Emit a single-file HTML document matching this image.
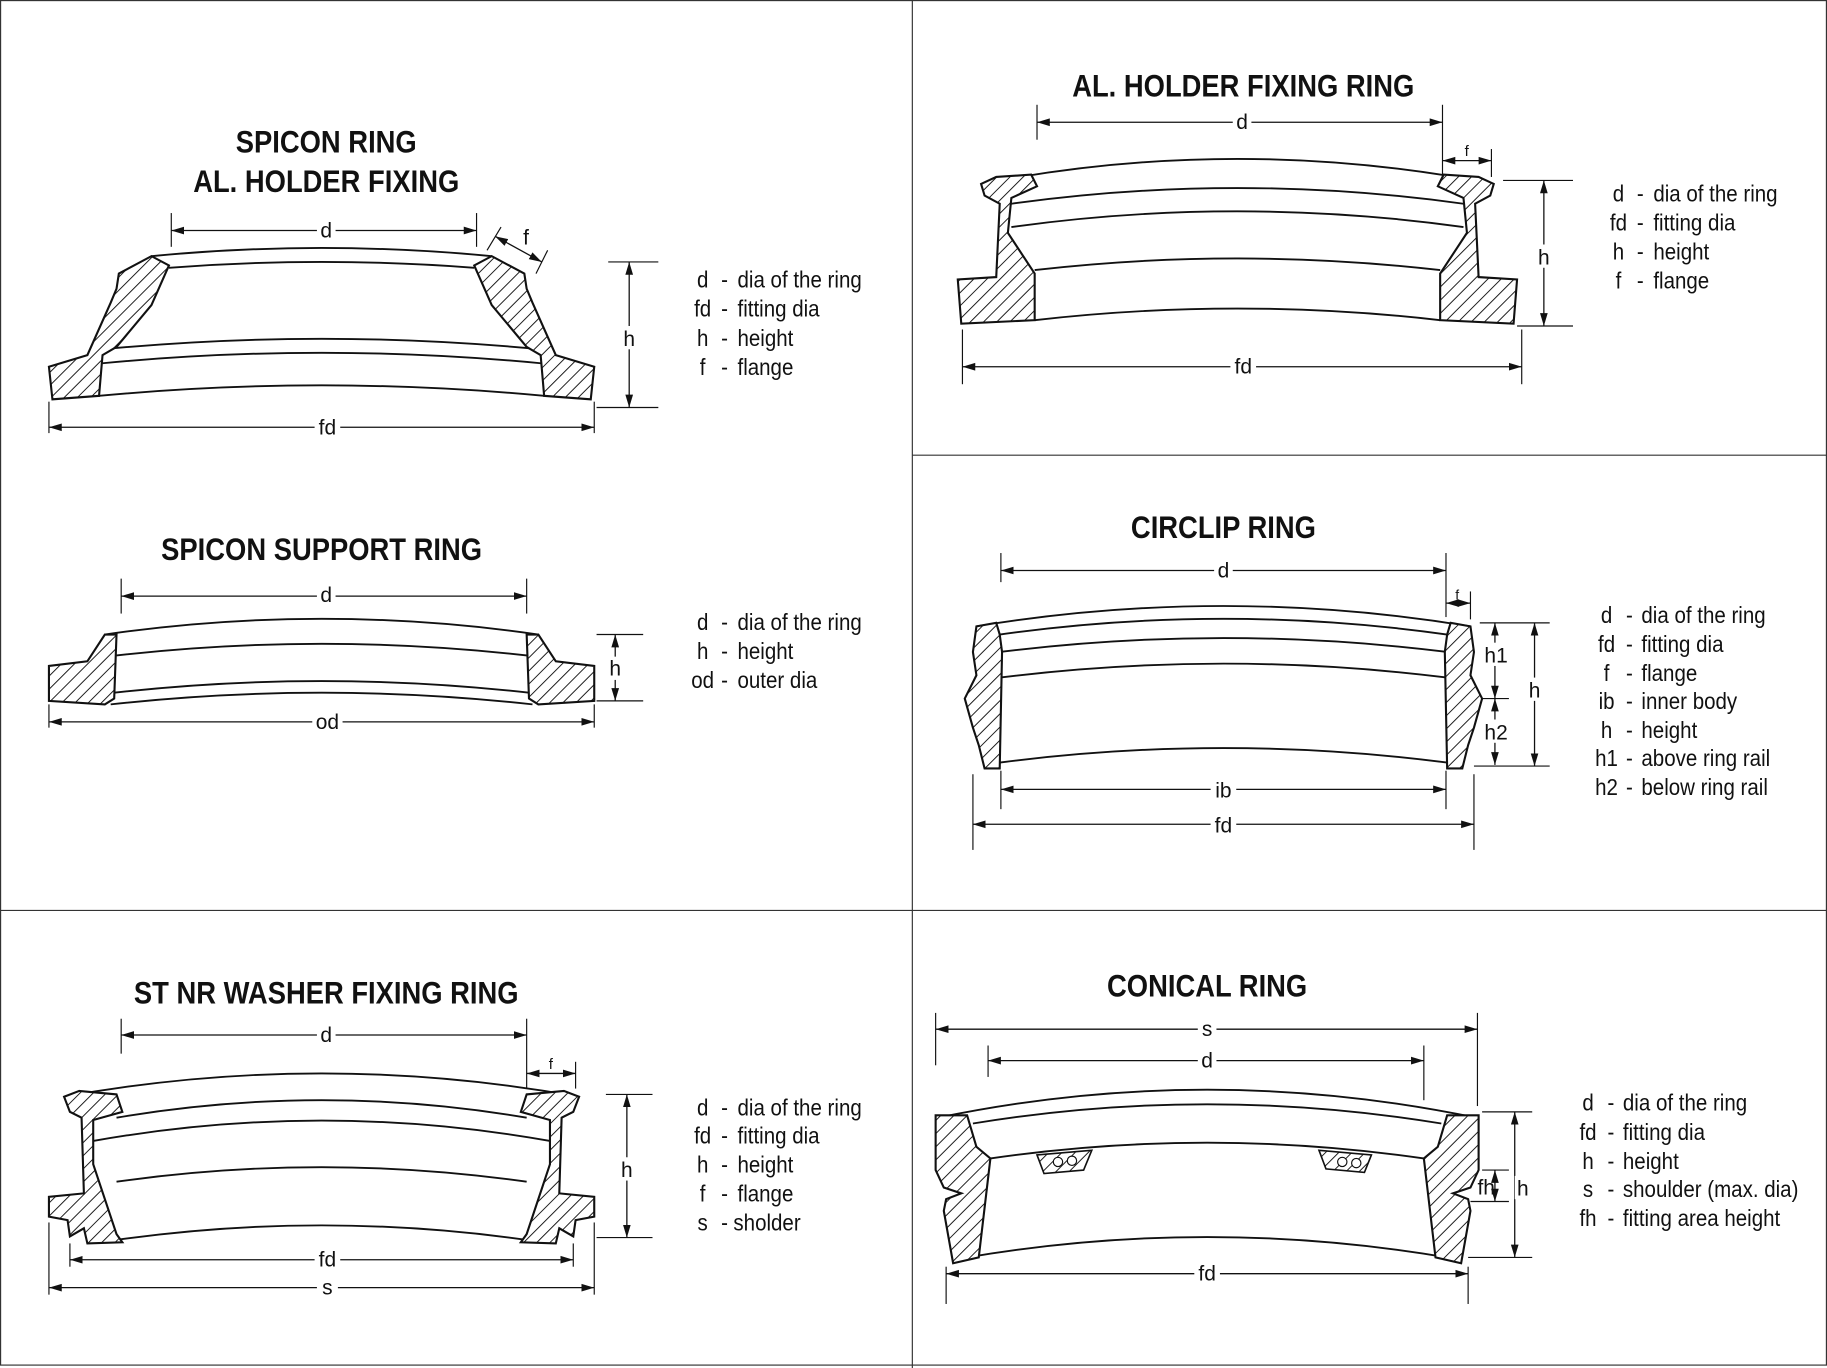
<!DOCTYPE html>
<html><head><meta charset="utf-8"><style>
html,body{margin:0;padding:0;background:#fff}
svg{display:block}
text{font-family:"Liberation Sans Narrow","Liberation Sans",sans-serif;fill:#111}
.t{font-weight:bold;font-size:27px}
.l{font-size:20px}
.dl{font-size:18px}
.s{fill:none;stroke:#111;stroke-width:1.6}
.h{fill:url(#hatch);stroke:#111;stroke-width:1.8}
.d{stroke:#111;stroke-width:1.1;fill:none;marker-start:url(#a1);marker-end:url(#a2)}
.e{stroke:#111;stroke-width:1;fill:none}
</style></head><body>
<svg width="1827" height="1368" viewBox="0 0 1568 1175" preserveAspectRatio="none">
<defs>
<pattern id="hatch" patternUnits="userSpaceOnUse" width="8" height="8" patternTransform="rotate(45)"><rect width="8" height="8" fill="#fff"/><line x1="0" y1="0" x2="0" y2="8" stroke="#111" stroke-width="1.6"/></pattern>
<marker id="a1" markerWidth="10" markerHeight="8" refX="0" refY="4" orient="auto"><path d="M10,1 L0,4 L10,7 Z" fill="#111"/></marker>
<marker id="a2" markerWidth="10" markerHeight="8" refX="10" refY="4" orient="auto"><path d="M0,1 L10,4 L0,7 Z" fill="#111"/></marker>
</defs>
<g>
<rect x="0.5" y="0.5" width="1567" height="1172" fill="none" stroke="#333" stroke-width="1"/>
<line x1="783" y1="0" x2="783" y2="1175" stroke="#333"/>
<line x1="0" y1="782" x2="1568" y2="782" stroke="#333"/>
<line x1="783" y1="391" x2="1568" y2="391" stroke="#333"/>
</g>

<!-- Spicon ring -->
<g>
<g transform="translate(280,0) scale(0.87,1) translate(-280,0)">
<text class="t" x="280" y="131" text-anchor="middle">SPICON RING</text>
<text class="t" x="280" y="165" text-anchor="middle">AL. HOLDER FIXING</text>
</g>
<path class="s" d="M130,220 Q276,206 422,220 M145,230 Q276,220 407,230 M88,300 Q276,282 464,300 M88,312 Q276,294 464,312 M85,340 Q276,322 467,340"/>
<path class="h" d="M102,235 L130,220 L145,228 L130,262 L100,298 L88,305 L85,340 L45,343 L42,315 L75,305 L95,260 L100,248 Z"/>
<path class="h" d="M450,235 L422,220 L407,228 L422,262 L452,298 L464,305 L467,340 L507,343 L510,315 L477,305 L457,260 L452,248 Z"/>
<line class="e" x1="147" y1="183" x2="147" y2="212"/><line class="e" x1="409" y1="183" x2="409" y2="212"/>
<line class="d" x1="147" y1="198" x2="409" y2="198"/>
<rect x="272" y="188" width="16" height="18" fill="#fff"/><text class="dl" x="280" y="204" text-anchor="middle">d</text>
<line class="e" x1="418" y1="215" x2="430" y2="195"/><line class="e" x1="460" y1="235" x2="470" y2="215"/>
<line class="d" x1="425" y1="203" x2="465" y2="225"/><text class="dl" x="449" y="210" font-size="13">f</text>
<line class="e" x1="522" y1="225" x2="565" y2="225"/><line class="e" x1="512" y1="350" x2="565" y2="350"/>
<line class="d" x1="540" y1="225" x2="540" y2="350"/>
<rect x="532" y="280" width="16" height="20" fill="#fff"/><text class="dl" x="540" y="297" text-anchor="middle">h</text>
<line class="e" x1="42" y1="345" x2="42" y2="372"/><line class="e" x1="510" y1="345" x2="510" y2="372"/>
<line class="d" x1="42" y1="367" x2="510" y2="367"/>
<rect x="270" y="357" width="22" height="20" fill="#fff"/><text class="dl" x="281" y="373" text-anchor="middle">fd</text>
<g class="l" transform="translate(596,0) scale(0.88,1) translate(-596,0)">
<text x="604" y="247" text-anchor="middle">d</text><text x="622" y="247">-</text><text x="638" y="247">dia of the ring</text>
<text x="604" y="272" text-anchor="middle">fd</text><text x="622" y="272">-</text><text x="638" y="272">fitting dia</text>
<text x="604" y="297" text-anchor="middle">h</text><text x="622" y="297">-</text><text x="638" y="297">height</text>
<text x="604" y="322" text-anchor="middle">f</text><text x="622" y="322">-</text><text x="638" y="322">flange</text>
</g></g>

<!-- Spicon support ring -->
<g>
<g transform="translate(276,0) scale(0.87,1) translate(-276,0)">
<text class="t" x="276" y="481" text-anchor="middle">SPICON SUPPORT RING</text>
</g>
<path class="s" d="M90,545 Q276,518 462,545 M100,563 Q276,543 452,563 M98,595 Q276,575 454,595 M95,605 Q276,585 457,605"/>
<path class="h" d="M42,572 L75,568 L90,545 L100,545 L98,600 L90,605 L42,602 Z"/>
<path class="h" d="M510,572 L477,568 L462,545 L452,545 L454,600 L462,605 L510,602 Z"/>
<line class="e" x1="104" y1="497" x2="104" y2="527"/><line class="e" x1="452" y1="497" x2="452" y2="527"/>
<line class="d" x1="104" y1="512" x2="452" y2="512"/>
<rect x="272" y="501" width="16" height="19" fill="#fff"/><text class="dl" x="280" y="517" text-anchor="middle">d</text>
<line class="e" x1="512" y1="545" x2="552" y2="545"/><line class="e" x1="512" y1="602" x2="552" y2="602"/>
<line class="d" x1="528" y1="545" x2="528" y2="602"/>
<rect x="520" y="564" width="16" height="20" fill="#fff"/><text class="dl" x="528" y="580" text-anchor="middle">h</text>
<line class="e" x1="42" y1="605" x2="42" y2="625"/><line class="e" x1="510" y1="605" x2="510" y2="625"/>
<line class="d" x1="42" y1="620" x2="510" y2="620"/>
<rect x="268" y="610" width="26" height="20" fill="#fff"/><text class="dl" x="281" y="626" text-anchor="middle">od</text>
<g class="l" transform="translate(596,0) scale(0.88,1) translate(-596,0)">
<text x="604" y="541" text-anchor="middle">d</text><text x="622" y="541">-</text><text x="638" y="541">dia of the ring</text>
<text x="604" y="566" text-anchor="middle">h</text><text x="622" y="566">-</text><text x="638" y="566">height</text>
<text x="604" y="591" text-anchor="middle">od</text><text x="622" y="591">-</text><text x="638" y="591">outer dia</text>
</g></g>

<!-- ST NR washer -->
<g>
<g transform="translate(280,0) scale(0.87,1) translate(-280,0)">
<text class="t" x="280" y="862" text-anchor="middle">ST NR WASHER FIXING RING</text>
</g>
<path class="s" d="M55,942 Q276,902 497,942 M100,960 Q276,930 452,960 M80,980 Q276,945 472,980 M100,1015 Q276,990 452,1015 M100,1065 Q276,1040 452,1065"/>
<path class="h" d="M55,942 L68,937 L100,940 L105,955 L80,962 L80,1000 L100,1060 L105,1067 L75,1068 L72,1055 L60,1062 L58,1048 L42,1045 L42,1028 L72,1025 L70,960 L60,955 Z"/>
<path class="h" d="M497,942 L484,937 L452,940 L447,955 L472,962 L472,1000 L452,1060 L447,1067 L477,1068 L480,1055 L492,1062 L494,1048 L510,1045 L510,1028 L480,1025 L482,960 L492,955 Z"/>
<line class="e" x1="104" y1="875" x2="104" y2="905"/><line class="e" x1="452" y1="875" x2="452" y2="935"/>
<line class="d" x1="104" y1="889" x2="452" y2="889"/>
<rect x="272" y="879" width="16" height="19" fill="#fff"/><text class="dl" x="280" y="895" text-anchor="middle">d</text>
<line class="e" x1="494" y1="912" x2="494" y2="935"/>
<line class="d" x1="452" y1="922" x2="494" y2="922"/><text x="471" y="918" font-size="13">f</text>
<line class="e" x1="520" y1="940" x2="560" y2="940"/><line class="e" x1="512" y1="1063" x2="560" y2="1063"/>
<line class="d" x1="538" y1="940" x2="538" y2="1063"/>
<rect x="530" y="994" width="16" height="20" fill="#fff"/><text class="dl" x="538" y="1011" text-anchor="middle">h</text>
<line class="e" x1="60" y1="1068" x2="60" y2="1088"/><line class="e" x1="492" y1="1068" x2="492" y2="1088"/>
<line class="d" x1="60" y1="1082" x2="492" y2="1082"/>
<rect x="270" y="1072" width="22" height="20" fill="#fff"/><text class="dl" x="281" y="1088" text-anchor="middle">fd</text>
<line class="e" x1="42" y1="1050" x2="42" y2="1112"/><line class="e" x1="510" y1="1050" x2="510" y2="1112"/>
<line class="d" x1="42" y1="1106" x2="510" y2="1106"/>
<rect x="272" y="1096" width="18" height="20" fill="#fff"/><text class="dl" x="281" y="1112" text-anchor="middle">s</text>
<g class="l" transform="translate(596,0) scale(0.88,1) translate(-596,0)">
<text x="604" y="958" text-anchor="middle">d</text><text x="622" y="958">-</text><text x="638" y="958">dia of the ring</text>
<text x="604" y="982" text-anchor="middle">fd</text><text x="622" y="982">-</text><text x="638" y="982">fitting dia</text>
<text x="604" y="1007" text-anchor="middle">h</text><text x="622" y="1007">-</text><text x="638" y="1007">height</text>
<text x="604" y="1032" text-anchor="middle">f</text><text x="622" y="1032">-</text><text x="638" y="1032">flange</text>
<text x="604" y="1057" text-anchor="middle">s</text><text x="622" y="1057">-</text><text x="634" y="1057">sholder</text>
</g></g>

<!-- AL holder fixing ring -->
<g>
<g transform="translate(1067,0) scale(0.87,1) translate(-1067,0)">
<text class="t" x="1067" y="83" text-anchor="middle">AL. HOLDER FIXING RING</text>
</g>
<path class="s" d="M842,158 Q1062,115 1282,158 M868,175 Q1062,148 1256,175 M868,195 Q1062,168 1256,195 M888,232 Q1062,212 1236,232 M888,275 Q1062,255 1236,275"/>
<path class="h" d="M842,158 L855,152 L885,150 L890,160 L868,170 L865,200 L888,235 L888,275 L825,278 L822,240 L855,238 L858,175 L845,168 Z"/>
<path class="h" d="M1282,158 L1269,152 L1239,150 L1234,160 L1256,170 L1259,200 L1236,235 L1236,275 L1299,278 L1302,240 L1269,238 L1266,175 L1279,168 Z"/>
<line class="e" x1="890" y1="90" x2="890" y2="120"/><line class="e" x1="1238" y1="90" x2="1238" y2="150"/>
<line class="d" x1="890" y1="105" x2="1238" y2="105"/>
<rect x="1058" y="95" width="16" height="19" fill="#fff"/><text class="dl" x="1066" y="111" text-anchor="middle">d</text>
<line class="e" x1="1280" y1="128" x2="1280" y2="152"/>
<line class="d" x1="1238" y1="138" x2="1280" y2="138"/><text x="1257" y="134" font-size="13">f</text>
<line class="e" x1="1290" y1="155" x2="1350" y2="155"/><line class="e" x1="1302" y1="280" x2="1350" y2="280"/>
<line class="d" x1="1325" y1="155" x2="1325" y2="280"/>
<rect x="1317" y="210" width="16" height="20" fill="#fff"/><text class="dl" x="1325" y="227" text-anchor="middle">h</text>
<line class="e" x1="826" y1="283" x2="826" y2="330"/><line class="e" x1="1306" y1="283" x2="1306" y2="330"/>
<line class="d" x1="826" y1="315" x2="1306" y2="315"/>
<rect x="1056" y="305" width="22" height="20" fill="#fff"/><text class="dl" x="1067" y="321" text-anchor="middle">fd</text>
<g class="l" transform="translate(1382,0) scale(0.88,1) translate(-1382,0)">
<text x="1390" y="173" text-anchor="middle">d</text><text x="1408" y="173">-</text><text x="1424" y="173">dia of the ring</text>
<text x="1390" y="198" text-anchor="middle">fd</text><text x="1408" y="198">-</text><text x="1424" y="198">fitting dia</text>
<text x="1390" y="223" text-anchor="middle">h</text><text x="1408" y="223">-</text><text x="1424" y="223">height</text>
<text x="1390" y="248" text-anchor="middle">f</text><text x="1408" y="248">-</text><text x="1424" y="248">flange</text>
</g></g>

<!-- Circlip ring -->
<g>
<g transform="translate(1050,0) scale(0.87,1) translate(-1050,0)">
<text class="t" x="1050" y="462" text-anchor="middle">CIRCLIP RING</text>
</g>
<path class="s" d="M838,538 Q1050,503 1262,538 M858,545 Q1050,518 1242,545 M858,560 Q1050,536 1242,560 M858,582 Q1050,558 1242,582 M858,655 Q1050,630 1242,655"/>
<path class="h" d="M838,538 L855,535 L858,545 L860,560 L858,660 L845,660 L840,640 L835,625 L828,600 L838,580 L835,560 Z"/>
<path class="h" d="M1262,538 L1245,535 L1242,545 L1240,560 L1242,660 L1255,660 L1260,640 L1265,625 L1272,600 L1262,580 L1265,560 Z"/>
<line class="e" x1="859" y1="475" x2="859" y2="500"/><line class="e" x1="1241" y1="475" x2="1241" y2="530"/>
<line class="d" x1="859" y1="490" x2="1241" y2="490"/>
<rect x="1042" y="480" width="16" height="19" fill="#fff"/><text class="dl" x="1050" y="496" text-anchor="middle">d</text>
<line class="e" x1="1262" y1="508" x2="1262" y2="532"/>
<line class="d" x1="1241" y1="518" x2="1262" y2="518"/><text x="1249" y="515" font-size="12">f</text>
<line class="e" x1="1270" y1="535" x2="1330" y2="535"/><line class="e" x1="1272" y1="600" x2="1295" y2="600"/><line class="e" x1="1265" y1="658" x2="1330" y2="658"/>
<line class="d" x1="1283" y1="535" x2="1283" y2="600"/><line class="d" x1="1283" y1="600" x2="1283" y2="657"/>
<line class="d" x1="1317" y1="535" x2="1317" y2="658"/>
<rect x="1272" y="552" width="24" height="20" fill="#fff"/><text class="dl" x="1284" y="569" text-anchor="middle">h1</text>
<rect x="1272" y="618" width="24" height="20" fill="#fff"/><text class="dl" x="1284" y="635" text-anchor="middle">h2</text>
<rect x="1309" y="582" width="16" height="20" fill="#fff"/><text class="dl" x="1317" y="599" text-anchor="middle">h</text>
<line class="e" x1="859" y1="662" x2="859" y2="695"/><line class="e" x1="1241" y1="662" x2="1241" y2="695"/>
<line class="d" x1="859" y1="678" x2="1241" y2="678"/>
<rect x="1039" y="668" width="22" height="20" fill="#fff"/><text class="dl" x="1050" y="685" text-anchor="middle">ib</text>
<line class="e" x1="835" y1="665" x2="835" y2="730"/><line class="e" x1="1265" y1="665" x2="1265" y2="730"/>
<line class="d" x1="835" y1="708" x2="1265" y2="708"/>
<rect x="1039" y="698" width="22" height="20" fill="#fff"/><text class="dl" x="1050" y="715" text-anchor="middle">fd</text>
<g class="l" transform="translate(1370,0) scale(0.88,1) translate(-1370,0)">
<text x="1380" y="535" text-anchor="middle">d</text><text x="1399" y="535">-</text><text x="1414" y="535">dia of the ring</text>
<text x="1380" y="560" text-anchor="middle">fd</text><text x="1399" y="560">-</text><text x="1414" y="560">fitting dia</text>
<text x="1380" y="585" text-anchor="middle">f</text><text x="1399" y="585">-</text><text x="1414" y="585">flange</text>
<text x="1380" y="609" text-anchor="middle">ib</text><text x="1399" y="609">-</text><text x="1414" y="609">inner body</text>
<text x="1380" y="634" text-anchor="middle">h</text><text x="1399" y="634">-</text><text x="1414" y="634">height</text>
<text x="1380" y="658" text-anchor="middle">h1</text><text x="1399" y="658">-</text><text x="1414" y="658">above ring rail</text>
<text x="1380" y="683" text-anchor="middle">h2</text><text x="1399" y="683">-</text><text x="1414" y="683">below ring rail</text>
</g></g>

<!-- Conical ring -->
<g>
<g transform="translate(1036,0) scale(0.87,1) translate(-1036,0)">
<text class="t" x="1036" y="856" text-anchor="middle">CONICAL RING</text>
</g>
<path class="s" d="M805,960 Q1036,912 1267,960 M835,965 Q1036,932 1237,965 M850,995 Q1036,968 1222,995 M830,1080 Q1036,1045 1242,1080"/>
<path class="h" d="M803,958 L830,958 L838,985 L850,995 L840,1080 L818,1085 L810,1040 L812,1030 L825,1025 L810,1020 L803,1005 Z"/>
<path class="h" d="M1269,958 L1242,958 L1234,985 L1222,995 L1232,1080 L1254,1085 L1262,1040 L1260,1030 L1247,1025 L1262,1020 L1269,1005 Z"/>
<path d="M890,992 L937,988 L930,1005 L896,1008 Z" fill="url(#hatch)" stroke="#111" stroke-width="1.4"/>
<circle cx="908" cy="998" r="4" fill="#fff" stroke="#111"/><circle cx="920" cy="997" r="4" fill="#fff" stroke="#111"/>
<path d="M1132,988 L1177,992 L1171,1007 L1138,1004 Z" fill="url(#hatch)" stroke="#111" stroke-width="1.4"/>
<circle cx="1152" cy="998" r="4" fill="#fff" stroke="#111"/><circle cx="1164" cy="999" r="4" fill="#fff" stroke="#111"/>
<line class="e" x1="803" y1="870" x2="803" y2="915"/><line class="e" x1="1268" y1="870" x2="1268" y2="950"/>
<line class="d" x1="803" y1="884" x2="1268" y2="884"/>
<rect x="1028" y="874" width="16" height="19" fill="#fff"/><text class="dl" x="1036" y="890" text-anchor="middle">s</text>
<line class="e" x1="848" y1="898" x2="848" y2="925"/><line class="e" x1="1222" y1="898" x2="1222" y2="945"/>
<line class="d" x1="848" y1="911" x2="1222" y2="911"/>
<rect x="1028" y="901" width="16" height="19" fill="#fff"/><text class="dl" x="1036" y="917" text-anchor="middle">d</text>
<line class="e" x1="1272" y1="955" x2="1315" y2="955"/><line class="e" x1="1272" y1="1005" x2="1295" y2="1005"/><line class="e" x1="1262" y1="1032" x2="1295" y2="1032"/><line class="e" x1="1260" y1="1080" x2="1315" y2="1080"/>
<line class="d" x1="1283" y1="1005" x2="1283" y2="1032"/>
<line class="d" x1="1300" y1="955" x2="1300" y2="1080"/>
<text class="dl" x="1268" y="1026">fh</text>
<rect x="1300" y="1010" width="16" height="20" fill="#fff"/><text class="dl" x="1307" y="1027" text-anchor="middle">h</text>
<line class="e" x1="812" y1="1088" x2="812" y2="1120"/><line class="e" x1="1260" y1="1088" x2="1260" y2="1120"/>
<line class="d" x1="812" y1="1094" x2="1260" y2="1094"/>
<rect x="1025" y="1084" width="22" height="20" fill="#fff"/><text class="dl" x="1036" y="1100" text-anchor="middle">fd</text>
<g class="l" transform="translate(1355,0) scale(0.88,1) translate(-1355,0)">
<text x="1364" y="954" text-anchor="middle">d</text><text x="1383" y="954">-</text><text x="1398" y="954">dia of the ring</text>
<text x="1364" y="979" text-anchor="middle">fd</text><text x="1383" y="979">-</text><text x="1398" y="979">fitting dia</text>
<text x="1364" y="1004" text-anchor="middle">h</text><text x="1383" y="1004">-</text><text x="1398" y="1004">height</text>
<text x="1364" y="1028" text-anchor="middle">s</text><text x="1383" y="1028">-</text><text x="1398" y="1028">shoulder (max. dia)</text>
<text x="1364" y="1053" text-anchor="middle">fh</text><text x="1383" y="1053">-</text><text x="1398" y="1053">fitting area height</text>
</g></g>
</svg>
</body></html>
